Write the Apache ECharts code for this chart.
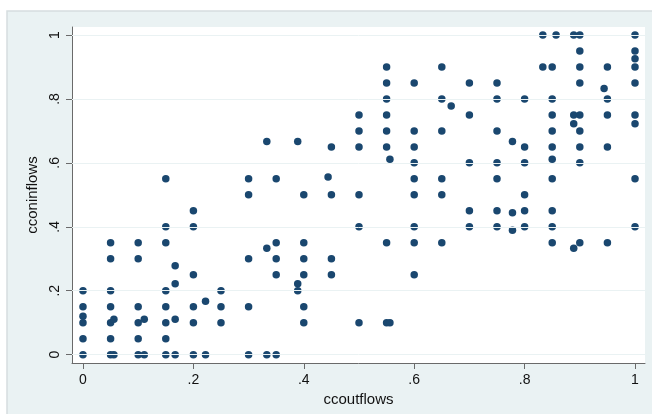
<!DOCTYPE html>
<html>
<head>
<meta charset="utf-8">
<script src="https://cdn.jsdelivr.net/npm/echarts@6/dist/echarts.min.js"></script>
<style>
html,body{margin:0;padding:0;background:#fff;}
#c{width:652px;height:414px;}
</style>
</head>
<body>
<div id="c"></div>
<script>
// x levels (ccoutflows) and the cconinflows values observed at each level
var xLevels = [0, 0.05, 0.056, 0.1, 0.111, 0.15, 0.167, 0.2, 0.222, 0.25, 0.3, 0.333, 0.35, 0.389, 0.4, 0.444, 0.45, 0.5, 0.55, 0.556, 0.6, 0.65, 0.667, 0.7, 0.75, 0.778, 0.8, 0.833, 0.85, 0.857, 0.889, 0.9, 0.944, 0.95, 1];
var yLists = [
  [0.2, 0.15, 0.12, 0.1, 0.05, 0],
  [0.35, 0.3, 0.2, 0.15, 0.1, 0.05, 0],
  [0.111, 0],
  [0.35, 0.3, 0.15, 0.1, 0.05, 0],
  [0.111, 0],
  [0.55, 0.4, 0.35, 0.2, 0.15, 0.1, 0.05, 0],
  [0.278, 0.222, 0.111, 0],
  [0.45, 0.4, 0.25, 0.15, 0.1, 0],
  [0.167, 0],
  [0.2, 0.15, 0.1],
  [0.55, 0.5, 0.3, 0.15, 0],
  [0.667, 0.333, 0],
  [0.55, 0.35, 0.3, 0.25, 0],
  [0.667, 0.222, 0.2],
  [0.5, 0.35, 0.3, 0.25, 0.15, 0.1],
  [0.556],
  [0.65, 0.5, 0.3, 0.25],
  [0.75, 0.7, 0.65, 0.5, 0.4, 0.1],
  [0.9, 0.85, 0.8, 0.75, 0.7, 0.65, 0.35, 0.1],
  [0.611, 0.1],
  [0.85, 0.7, 0.65, 0.6, 0.55, 0.5, 0.4, 0.35, 0.25],
  [0.9, 0.8, 0.7, 0.55, 0.5, 0.35],
  [0.778],
  [0.85, 0.75, 0.6, 0.45, 0.4],
  [0.85, 0.8, 0.7, 0.6, 0.55, 0.45, 0.4],
  [0.667, 0.444, 0.389],
  [0.8, 0.65, 0.6, 0.5, 0.45, 0.4],
  [1, 0.9],
  [0.9, 0.8, 0.75, 0.7, 0.65, 0.611, 0.55, 0.45, 0.4, 0.35],
  [1],
  [1, 0.75, 0.722, 0.333],
  [1, 0.95, 0.9, 0.85, 0.75, 0.7, 0.65, 0.6, 0.35],
  [0.833],
  [0.9, 0.8, 0.75, 0.65, 0.35],
  [1, 0.95, 0.926, 0.9, 0.85, 0.75, 0.722, 0.55, 0.4]
];
var xTicks = [0, 0.2, 0.4, 0.6, 0.8, 1];
var yTicks = [0, 0.2, 0.4, 0.6, 0.8, 1];
var tickLabels = ['0', '.2', '.4', '.6', '.8', '1'];
var xTitle = 'ccoutflows';
var yTitle = 'cconinflows';

var points = [];
xLevels.forEach(function (x, i) {
  yLists[i].forEach(function (y) { points.push([x, y]); });
});
function fmt(v) {
  for (var i = 0; i < xTicks.length; i++) if (Math.abs(v - xTicks[i]) < 1e-9) return tickLabels[i];
  return '';
}

var chart = echarts.init(document.getElementById('c'), null, {renderer: 'canvas'});
var font = 'Liberation Sans, Arial, Helvetica, sans-serif';
var axisCol = '#6a6a6a';
chart.setOption({
  animation: false,
  backgroundColor: '#ffffff',
  graphic: [{
    type: 'rect', z: -10, silent: true,
    shape: {x: 7, y: 11, width: 650, height: 410},
    style: {fill: '#eaf2f3', stroke: '#d6dddf', lineWidth: 1.5}
  }],
  grid: {left: 72, right: 7, top: 27, bottom: 51, show: true, backgroundColor: '#ffffff', borderWidth: 0},
  xAxis: {
    type: 'value', min: -0.0199, max: 1.0181,
    name: xTitle, nameLocation: 'middle', nameGap: 27,
    nameTextStyle: {fontFamily: font, fontSize: 15, color: '#111'},
    axisLine: {show: true, onZero: false, lineStyle: {color: axisCol, width: 1}},
    axisTick: {show: true, length: 6, customValues: xTicks, lineStyle: {color: axisCol}},
    axisLabel: {customValues: xTicks, formatter: fmt, fontFamily: font, fontSize: 14, color: '#111', margin: 10},
    splitLine: {show: false}
  },
  yAxis: {
    type: 'value', min: -0.026, max: 1.025,
    name: yTitle, nameLocation: 'middle', nameGap: 32, nameRotate: 90,
    nameTextStyle: {fontFamily: font, fontSize: 15, color: '#111'},
    axisLine: {show: true, onZero: false, lineStyle: {color: axisCol, width: 1}},
    axisTick: {show: true, length: 6, customValues: yTicks, lineStyle: {color: axisCol}},
    axisLabel: {customValues: yTicks, formatter: fmt, rotate: 90, fontFamily: font, fontSize: 14, color: '#111', margin: 10},
    splitLine: {show: false}
  },
  series: [{
    type: 'scatter', data: [], z: 1, silent: true,
    markLine: {
      silent: true, symbol: 'none', animation: false,
      label: {show: false},
      lineStyle: {color: '#eaf2f3', width: 1, type: 'solid'},
      data: yTicks.map(function (v) { return {yAxis: v}; })
    }
  }, {
    type: 'scatter', z: 3,
    data: points,
    symbol: 'circle', symbolSize: 7.5,
    itemStyle: {color: '#1a476f', opacity: 1}
  }]
});
</script>
</body>
</html>
